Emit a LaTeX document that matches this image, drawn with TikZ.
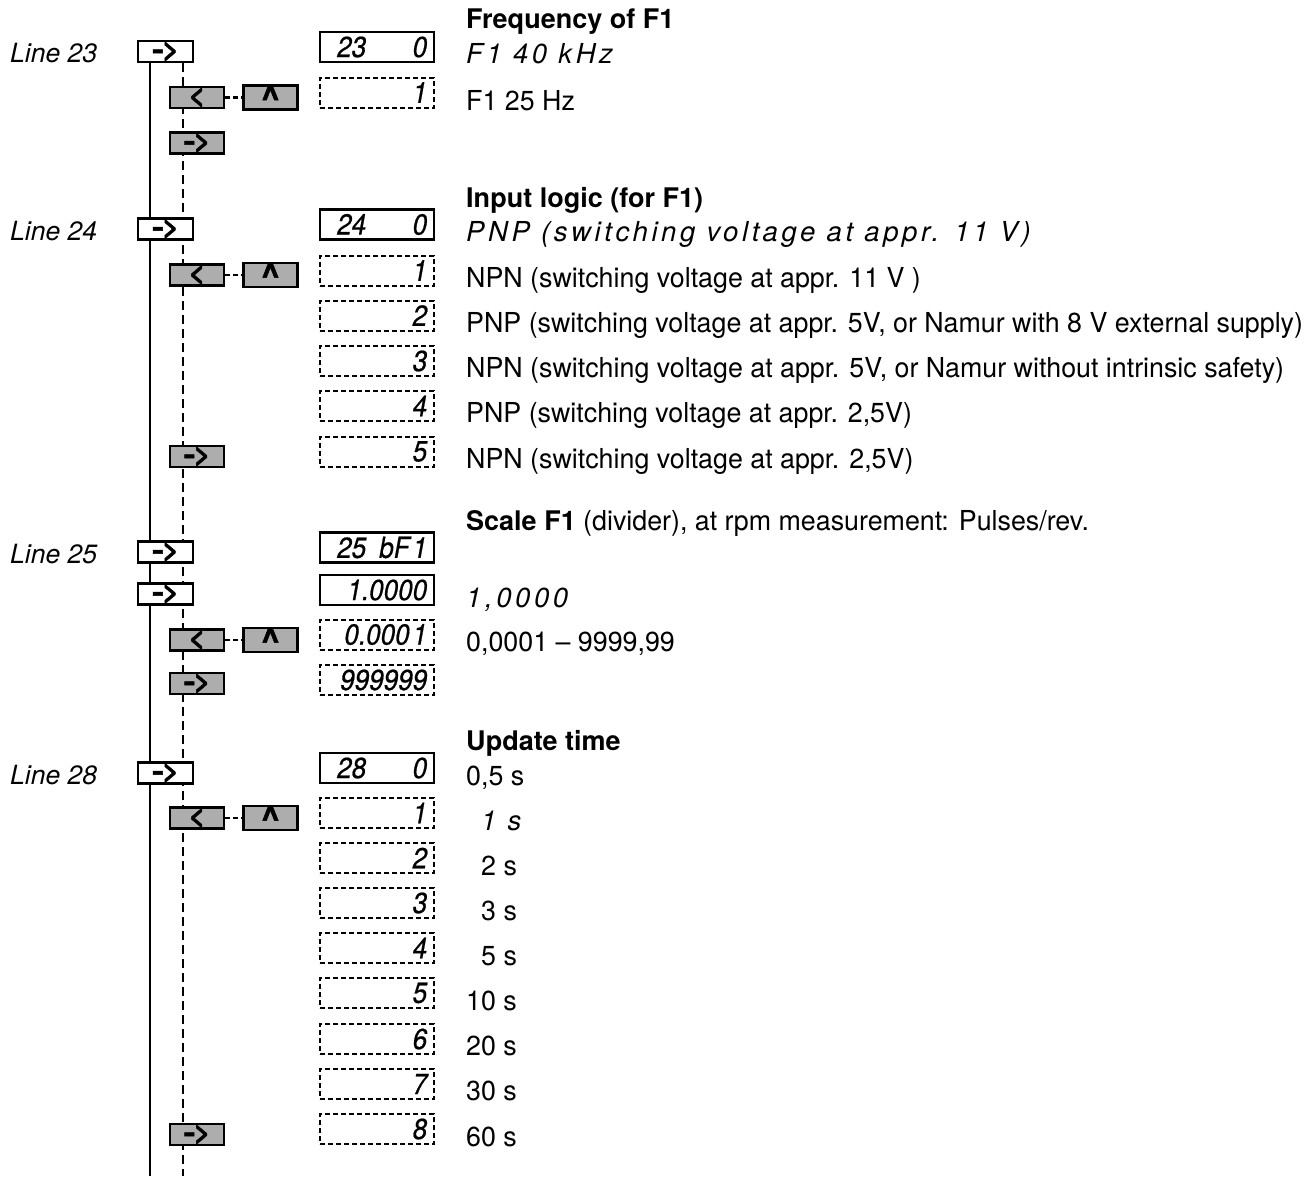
\documentclass[tikz,border=0pt]{standalone}
\usepackage{fontspec}
\usetikzlibrary{backgrounds}
\setmainfont{TeX Gyre Heros}[FakeStretch=0.975]
\newfontfamily\hdfont{TeX Gyre Heros}
\newfontfamily\spfont{TeX Gyre Heros}[LetterSpace=13]
\newfontfamily\segfont{TeX Gyre Heros}[FakeSlant=0.18,FakeStretch=0.9,FakeBold=0.6]
\newfontfamily\lbfont{TeX Gyre Heros}
\newfontfamily\btnfont{TeX Gyre Heros}[FakeBold=1.5]
\newcommand\dispval[2]{\hbox to 100pt{\hspace*{9pt}#1\hfill#2\hspace*{1pt}}}
\newcommand\upchev{\raisebox{-0.42em}{\fontsize{34}{34}\selectfont\textasciicircum}}
\newcommand\rarr{\scalebox{1.35}[1]{-}\kern-1.5pt{\fontsize{28}{28}\selectfont>}}
\newcommand\larr{{\fontsize{28}{28}\selectfont<}}
\begin{document}
\begin{tikzpicture}[x=1pt,y=-1pt,
  wbtn/.style={draw, line width=2.2pt, fill=white, minimum width=55pt, minimum height=21pt, inner sep=0pt, font=\btnfont\bfseries\fontsize{26}{26}\selectfont},
  gbtn/.style={draw, line width=2.6pt, fill=black!32, minimum width=54pt, minimum height=21pt, inner sep=0pt, font=\btnfont\bfseries\fontsize{26}{26}\selectfont},
  disp/.style={draw, line width=2.5pt, minimum width=114pt, minimum height=30pt, inner sep=0pt, font=\segfont\fontsize{29}{29}\selectfont},
  ddisp/.style={disp, line width=2pt, dash pattern=on 5pt off 3pt},
  txt/.style={anchor=base west, inner sep=0pt, font=\fontsize{27.5}{30}\selectfont},
  hd/.style={anchor=base west, inner sep=0pt, font=\hdfont\bfseries\fontsize{27}{30}\selectfont},
  itx/.style={anchor=base west, inner sep=0pt, font=\spfont\itshape\fontsize{27.5}{30}\selectfont},
  lbl/.style={anchor=base west, inner sep=0pt, font=\lbfont\itshape\fontsize{26.5}{30}\selectfont},
  sline/.style={line width=2.5pt},
  dline/.style={line width=2.2pt, dash pattern=on 9pt off 5pt},
  hdash/.style={line width=2.2pt, dash pattern=on 5pt off 3pt}]
\useasboundingbox (0,0) rectangle (1309,1176);
\coordinate (endS) at (150,1176);
\coordinate (endD) at (183,1176);

% ---- Line 23
\node[wbtn] (b23) at (165.5,51.5) {\rarr};
\node[disp] (d23) at (377,47) {\dispval{23}{0}};
\node[gbtn] (lt23) at (197,97.5) {\larr};
\node[gbtn] (up23) at (270.5,97.5) {\upchev};
\node[ddisp] (d23a) at (377,92.5) {\dispval{}{1}};
\node[gbtn] (rt23) at (197,143) {\rarr};

% ---- Line 24
\node[wbtn] (b24) at (165.5,229) {\rarr};
\node[disp] (d24) at (377,224.5) {\dispval{24}{0}};
\node[gbtn] (lt24) at (197,275) {\larr};
\node[gbtn] (up24) at (270.5,275) {\upchev};
\node[ddisp] (d24a) at (377,270.5) {\dispval{}{1}};
\node[ddisp] (d24b) at (377,315.5) {\dispval{}{2}};
\node[ddisp] (d24c) at (377,361) {\dispval{}{3}};
\node[ddisp] (d24d) at (377,406) {\dispval{}{4}};
\node[ddisp] (d24e) at (377,451.5) {\dispval{}{5}};
\node[gbtn] (rt24) at (197,456.5) {\rarr};

% ---- Line 25
\node[wbtn] (b25) at (165.5,552) {\rarr};
\node[disp] (d25) at (377,547.5) {\dispval{25}{bF\kern3pt1}};
\node[wbtn] (b25b) at (165.5,594) {\rarr};
\node[disp] (d25b) at (377,590) {\dispval{}{1.0000}};
\node[gbtn] (lt25) at (197,640) {\larr};
\node[gbtn] (up25) at (270.5,640) {\upchev};
\node[ddisp] (d25c) at (377,634.5) {\dispval{}{0.000\kern3pt1}};
\node[gbtn] (rt25) at (197,683.5) {\rarr};
\node[ddisp] (d25d) at (377,680) {\dispval{}{999999}};

% ---- Line 28
\node[wbtn] (b28) at (165.5,773) {\rarr};
\node[disp] (d28) at (377,768) {\dispval{28}{0}};
\node[gbtn] (lt28) at (197,818) {\larr};
\node[gbtn] (up28) at (270.5,818) {\upchev};
\node[ddisp] (d28a) at (377,813) {\dispval{}{1}};
\node[ddisp] (d28b) at (377,858) {\dispval{}{2}};
\node[ddisp] (d28c) at (377,903) {\dispval{}{3}};
\node[ddisp] (d28d) at (377,948) {\dispval{}{4}};
\node[ddisp] (d28e) at (377,993) {\dispval{}{5}};
\node[ddisp] (d28f) at (377,1039) {\dispval{}{6}};
\node[ddisp] (d28g) at (377,1084) {\dispval{}{7}};
\node[ddisp] (d28h) at (377,1129) {\dispval{}{8}};
\node[gbtn] (rt28) at (197,1134.5) {\rarr};

% ---- connectors
\begin{scope}[on background layer]
\draw[sline] (b23.south -| endS) -- (endS);
\draw[dline] (b23.south -| endD) -- (endD);
\end{scope}
\draw[hdash] (lt23.east) -- (up23.west);
\draw[hdash] (lt24.east) -- (up24.west);
\draw[hdash] (lt25.east) -- (up25.west);
\draw[hdash] (lt28.east) -- (up28.west);

% ---- left labels
\node[lbl] (l23) at (10,62) {Line 23};
\node[lbl] (l24) at (10,240) {Line 24};
\node[lbl] (l25) at (10,563) {Line 25};
\node[lbl] (l28) at (10,784) {Line 28};

% ---- right texts
\node[hd] (h23) at (466,28) {Frequency of F1};
\node[itx] (t23a) at (466,63) {F1 40 kHz};
\node[txt] (t23b) at (466,110) {F1 25 Hz};

\node[hd] (h24) at (466,207) {Input logic (for F1)};
\node[itx] (t24a) at (466,241) {PNP (switching voltage at appr. 11 V)};
\node[txt] (t24b) at (466,287) {NPN (switching voltage at appr. 11 V )};
\node[txt] (t24c) at (466,332) {PNP (switching voltage at appr. 5V, or Namur with 8 V external supply)};
\node[txt] (t24d) at (466,377.5) {NPN (switching voltage at appr. 5V, or Namur without intrinsic safety)};
\node[txt] (t24e) at (466,422.5) {PNP (switching voltage at appr. 2,5V)};
\node[txt] (t24f) at (466,468) {NPN (switching voltage at appr. 2,5V)};

\node[txt] (h25) at (466,530) {{\hdfont\bfseries\fontsize{27}{30}\selectfont Scale F1} (divider), at rpm measurement: Pulses/rev.};
\node[itx] (t25a) at (466,607) {1,0000};
\node[txt] (t25b) at (466,651) {0,0001 -- 9999,99};

\node[hd] (h28) at (466,750) {Update time};
\node[txt] (t28a) at (466,785) {0,5 s};
\node[itx] (t28b) at (481,830) {1 s};
\node[txt] (t28c) at (481,875) {2 s};
\node[txt] (t28d) at (481,920) {3 s};
\node[txt] (t28e) at (481,965) {5 s};
\node[txt] (t28f) at (466,1010) {10 s};
\node[txt] (t28g) at (466,1055) {20 s};
\node[txt] (t28h) at (466,1100) {30 s};
\node[txt] (t28i) at (466,1146) {60 s};
\end{tikzpicture}
\end{document}
